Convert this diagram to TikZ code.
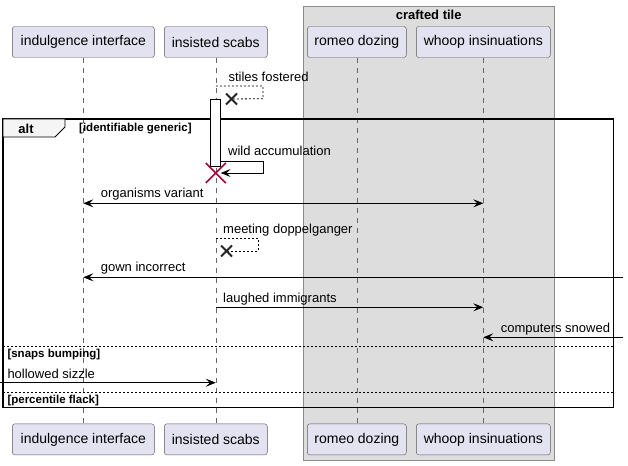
\documentclass[tikz,border=0pt]{standalone}
\usepackage{fontspec}
\setmainfont{Liberation Sans}
\usepackage{xcolor}
\usetikzlibrary{arrows.meta, positioning}
\definecolor{fundoator}{HTML}{E2E2F0}
\definecolor{fundogrupo}{HTML}{DDDDDD}
\definecolor{vermelho}{HTML}{A80036}

\begin{document}
\begin{tikzpicture}[
    x=1pt, y=-1pt,
    >={Stealth[length=10pt, width=8pt, inset=4pt]},
    ator/.style={
        rectangle,
        rounded corners=2.5pt,
        draw=black!65,
        fill=fundoator,
        minimum height=31pt,
        inner sep=0pt,
        font=\fontsize{14}{16}\selectfont
    },
    vida/.style={draw=black!60, line width=0.5pt, dash pattern=on 5pt off 5pt},
    seta/.style={->, line width=0.8pt},
    retorno/.style={line width=0.8pt, dash pattern=on 2pt off 2pt},
    rotulo/.style={anchor=west, inner sep=0pt, font=\fontsize{13}{15}\selectfont},
    guarda/.style={anchor=west, inner sep=0pt, font=\fontsize{11.5}{13}\selectfont\bfseries},
    titulo/.style={inner sep=0pt, font=\fontsize{13}{15}\selectfont\bfseries},
    divisor/.style={line width=0.6pt, dash pattern=on 2pt off 2pt},
    cruz/.style={line width=2pt, draw=black!85},
    ativacao/.style={rectangle, draw, fill=white, line width=0.8pt, minimum width=9.6pt, minimum height=67pt, inner sep=0pt}
]

\fill[white] (0,0) rectangle (628,465);
\useasboundingbox (0,0) rectangle (628,465);

\draw[draw=black!45, fill=fundogrupo] (303,6) rectangle (554.3,460);
\node[titulo] (tit) at (428.7,15) {crafted tile};

\node[ator, minimum width=142pt] (ii) at (83.3,42) {indulgence interface};
\node[ator, minimum width=103pt] (is) at (215.8,42) {insisted scabs};
\node[ator, minimum width=99pt] (rd) at (356.8,42) {romeo dozing};
\node[ator, minimum width=134pt] (wi) at (483.3,42) {whoop insinuations};

\node[ator, minimum width=142pt, below=366pt of ii] (ii2) {indulgence interface};
\node[ator, minimum width=103pt, below=366pt of is] (is2) {insisted scabs};
\node[ator, minimum width=99pt, below=366pt of rd] (rd2) {romeo dozing};
\node[ator, minimum width=134pt, below=366pt of wi] (wi2) {whoop insinuations};

\draw[vida] (ii) -- (ii2);
\draw[vida] (is) -- (is2);
\draw[vida] (rd) -- (rd2);
\draw[vida] (wi) -- (wi2);

\coordinate (dir) at (623.3,0);
\coordinate (esq) at (0,0);

% moldura alt
\draw[line width=1.5pt] (3,119) rectangle (613.3,407.3);
\draw[line width=0.8pt, fill=black!4] (3,119) -- (65,119) -- (65,127) -- (55,137) -- (3,137) -- cycle;
\node[titulo] (alt) at (26,128.5) {alt};
\node[guarda] (g1) at (79,129) {[identifiable generic]};

\node[ativacao] (at1) at (215.5,132.5) {};

\coordinate (x1) at (231.5,99);
\draw[retorno] (is |- 0,86) -- ++(47.2,0) -- ++(0,12.7) -- (x1);
\draw[cruz] (x1) +(-5.5,-5.5) -- +(5.5,5.5) (x1) +(-5.5,5.5) -- +(5.5,-5.5);
\node[rotulo] (m1) at (228.3,77) {stiles fostered};

\draw[seta] (at1.east |- 0,161) -- ++(42.4,0) -- ++(0,12) -- (at1.east |- 0,173);
\coordinate (x2) at (is |- 0,173);
\draw[draw=vermelho, line width=1.5pt] (x2) +(-10,-10) -- +(10,10) (x2) +(-10,10) -- +(10,-10);
\node[rotulo] (m2) at (228,150.7) {wild accumulation};

\draw[seta, <->] (ii |- 0,203.3) -- (wi |- 0,203.3);
\node[rotulo] (m3) at (100.7,194) {organisms variant};

\coordinate (x3) at (226.5,251);
\draw[retorno] (is |- 0,238.3) -- ++(42.2,0) -- ++(0,12.7) -- (x3);
\draw[cruz] (x3) +(-5.5,-5.5) -- +(5.5,5.5) (x3) +(-5.5,5.5) -- +(5.5,-5.5);
\node[rotulo] (m4) at (223,230) {meeting doppelganger};

\draw[seta] (dir |- 0,277.3) -- (ii |- 0,277.3);
\node[rotulo] (m5) at (100.7,267.7) {gown incorrect};

\draw[seta] (is |- 0,307.3) -- (wi |- 0,307.3);
\node[rotulo] (m6) at (223,299) {laughed immigrants};

\draw[seta] (dir |- 0,337.3) -- (wi |- 0,337.3);
\node[rotulo] (m7) at (500.7,328.7) {computers snowed};

\draw[divisor] (3,346) -- (613.3,346);
\node[guarda] (g2) at (7.3,355) {[snaps bumping]};

\draw[seta] (esq |- 0,382.7) -- (is |- 0,382.7);
\node[rotulo] (m8) at (7.3,374.3) {hollowed sizzle};

\draw[divisor] (3,392.7) -- (613.3,392.7);
\node[guarda] (g3) at (7.3,400.7) {[percentile flack]};

\end{tikzpicture}
\end{document}
